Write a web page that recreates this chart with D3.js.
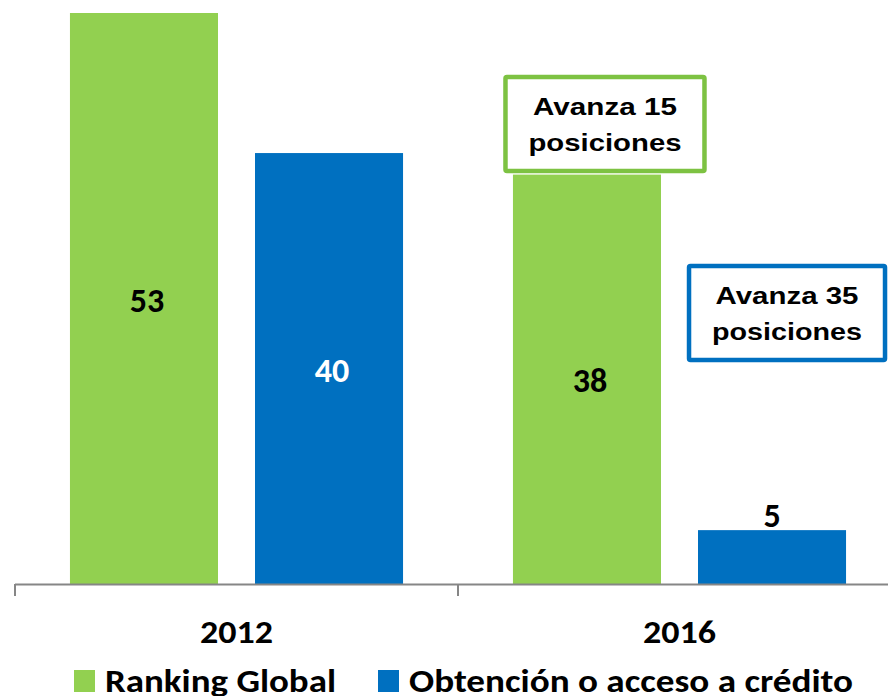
<!DOCTYPE html>
<html><head><meta charset="utf-8">
<script src="https://cdn.jsdelivr.net/npm/d3@7"></script>
<style>body{margin:0;background:#fff;}svg{display:block;}</style>
</head><body>
<svg id="chart" width="888" height="696"></svg>
<script>
const categories = ["2012", "2016"];
const seriesNames = ["Ranking Global", "Obtención o acceso a crédito"];
const rankingGlobal = [53, 38];
const accesoCredito = [40, 5];
const annotations = ["Avanza 15\nposiciones", "Avanza 35\nposiciones"];

const colors = ["#92D050", "#0070C0"];
const labelFont = "Carlito, Lato, 'Open Sans', sans-serif";
const svg = d3.select("#chart");
const baseY = 584;
const x0 = d3.scaleBand().domain(categories).range([15, 901]).padding(0);
const x1 = d3.scaleBand().domain(seriesNames).range([0, x0.bandwidth()])
  .paddingInner(0.2).paddingOuter(0.297);
const y = d3.scaleLinear().domain([0, 53]).range([baseY, 13]);

const data = categories.map((c, i) => ({cat: c, values: [rankingGlobal[i], accesoCredito[i]]}));

const g = svg.append("g");
data.forEach(d => {
  d.values.forEach((v, j) => {
    const bx = x0(d.cat) + x1(seriesNames[j]);
    g.append("rect").attr("x", bx).attr("y", y(v)).attr("width", x1.bandwidth())
      .attr("height", baseY - y(v)).attr("fill", colors[j]);
    const cx = bx + x1.bandwidth() / 2;
    const inside = (baseY - y(v)) > 100;
    g.append("text").attr("x", inside ? cx + 3 : cx)
      .attr("y", inside ? (y(v) + baseY) / 2 + 13 : y(v) - 3)
      .attr("text-anchor", "middle")
      .attr("font-family", labelFont).attr("font-weight", "bold").attr("font-size", 34)
      .attr("fill", (j === 1 && inside) ? "#fff" : "#000")
      .text(v);
  });
});

// axis
const axis = d3.axisBottom(x0).tickSize(11).tickFormat("");
const ax = svg.append("g").attr("transform", `translate(0,${baseY + 0.5})`).call(axis);
ax.select(".domain").attr("d", `M15,0H901`).attr("stroke", "#868686").attr("stroke-width", 2).attr("fill", "none");
ax.selectAll(".tick").remove();
[15, 458].forEach(tx => {
  svg.append("line").attr("x1", tx).attr("x2", tx).attr("y1", baseY).attr("y2", baseY + 12)
    .attr("stroke", "#868686").attr("stroke-width", 2);
});
x0.domain().forEach(c => {
  svg.append("text").attr("x", x0(c) + x0.bandwidth() / 2).attr("y", 643)
    .attr("text-anchor", "middle").attr("font-family", labelFont).attr("font-weight", "bold")
    .attr("font-size", 33).attr("fill", "#000")
    .attr("textLength", 73).attr("lengthAdjust", "spacingAndGlyphs").text(c);
});

// annotations
const annotBoxes = [
  {series: 0, cat: "2016", dx: 18, top: 77, w: 199, h: 94, lens: [144, 153]},
  {series: 1, cat: "2016", dx: 15, top: 266, w: 196, h: 94, lens: [143, 150]}
];
annotBoxes.forEach((a, i) => {
  const cx = x0(a.cat) + x1(seriesNames[a.series]) + x1.bandwidth() / 2 + a.dx;
  svg.append("rect").attr("x", cx - a.w / 2).attr("y", a.top).attr("width", a.w).attr("height", a.h)
    .attr("fill", "#fff").attr("stroke", a.series === 0 ? "#7DC242" : "#0070C0")
    .attr("stroke-width", 4.5).attr("rx", 1.5);
  annotations[i].split("\n").forEach((line, k) => {
    svg.append("text").attr("x", cx).attr("y", a.top + 38 + k * 36)
      .attr("text-anchor", "middle").attr("font-family", "'Liberation Sans', Arial, sans-serif")
      .attr("font-weight", "bold").attr("font-size", 23.5).attr("fill", "#000")
      .attr("textLength", a.lens[k]).attr("lengthAdjust", "spacingAndGlyphs").text(line);
  });
});

// legend
const legendX = [74, 378];
const legendLens = [231, 444];
seriesNames.forEach((s, i) => {
  svg.append("rect").attr("x", legendX[i]).attr("y", 670).attr("width", 21).attr("height", 22).attr("fill", colors[i]);
  svg.append("text").attr("x", legendX[i] + 31).attr("y", 692)
    .attr("font-family", labelFont).attr("font-weight", "bold").attr("font-size", 32)
    .attr("fill", "#000").attr("textLength", legendLens[i]).attr("lengthAdjust", "spacingAndGlyphs").text(s);
});
</script>
</body></html>
